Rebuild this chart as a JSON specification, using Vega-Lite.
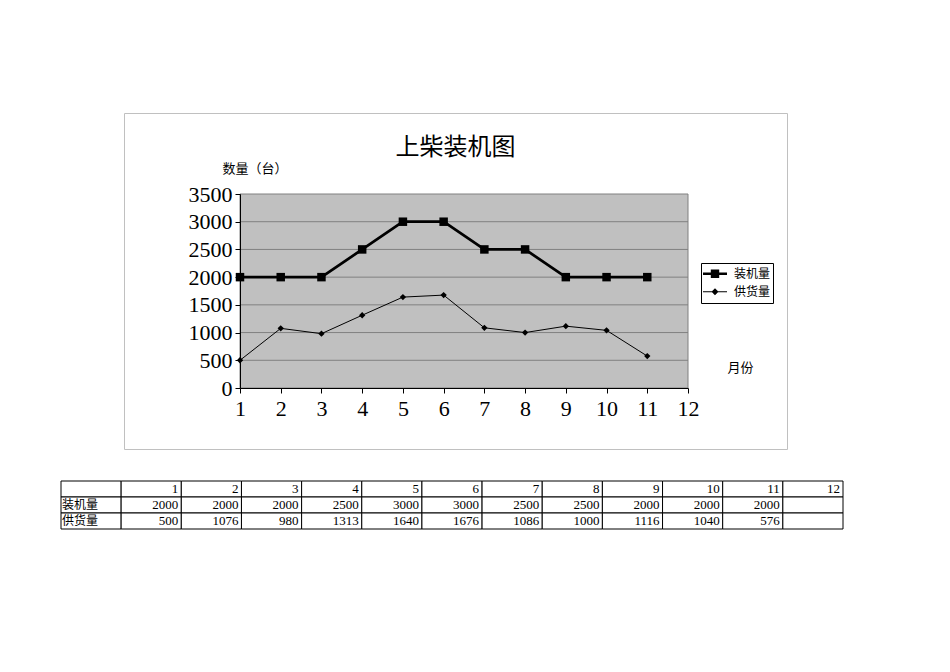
{
  "$schema": "https://vega.github.io/schema/vega-lite/v6.json",
  "width": 663,
  "height": 336,
  "autosize": "none",
  "padding": {"left": 124, "top": 113, "right": 163, "bottom": 223},
  "background": "white",
  "title": {
    "text": "上柴装机图",
    "anchor": "middle",
    "frame": "group",
    "font": "Noto Sans CJK SC",
    "fontSize": 24,
    "fontWeight": "normal",
    "color": "black",
    "baseline": "middle",
    "offset": -59
  },
  "datasets": {
    "series": [
      {"month": 1, "series": "装机量", "value": 2000},
      {"month": 2, "series": "装机量", "value": 2000},
      {"month": 3, "series": "装机量", "value": 2000},
      {"month": 4, "series": "装机量", "value": 2500},
      {"month": 5, "series": "装机量", "value": 3000},
      {"month": 6, "series": "装机量", "value": 3000},
      {"month": 7, "series": "装机量", "value": 2500},
      {"month": 8, "series": "装机量", "value": 2500},
      {"month": 9, "series": "装机量", "value": 2000},
      {"month": 10, "series": "装机量", "value": 2000},
      {"month": 11, "series": "装机量", "value": 2000},
      {"month": 1, "series": "供货量", "value": 500},
      {"month": 2, "series": "供货量", "value": 1076},
      {"month": 3, "series": "供货量", "value": 980},
      {"month": 4, "series": "供货量", "value": 1313},
      {"month": 5, "series": "供货量", "value": 1640},
      {"month": 6, "series": "供货量", "value": 1676},
      {"month": 7, "series": "供货量", "value": 1086},
      {"month": 8, "series": "供货量", "value": 1000},
      {"month": 9, "series": "供货量", "value": 1116},
      {"month": 10, "series": "供货量", "value": 1040},
      {"month": 11, "series": "供货量", "value": 576}
    ],
    "grid": [
      {"level": 500}, {"level": 1000}, {"level": 1500},
      {"level": 2000}, {"level": 2500}, {"level": 3000}
    ],
    "table": [
      {"row": "month", "col": "name", "text": ""},
      {"row": "month", "col": "1", "text": "1"},
      {"row": "month", "col": "2", "text": "2"},
      {"row": "month", "col": "3", "text": "3"},
      {"row": "month", "col": "4", "text": "4"},
      {"row": "month", "col": "5", "text": "5"},
      {"row": "month", "col": "6", "text": "6"},
      {"row": "month", "col": "7", "text": "7"},
      {"row": "month", "col": "8", "text": "8"},
      {"row": "month", "col": "9", "text": "9"},
      {"row": "month", "col": "10", "text": "10"},
      {"row": "month", "col": "11", "text": "11"},
      {"row": "month", "col": "12", "text": "12"},
      {"row": "装机量", "col": "name", "text": "装机量"},
      {"row": "装机量", "col": "1", "text": "2000"},
      {"row": "装机量", "col": "2", "text": "2000"},
      {"row": "装机量", "col": "3", "text": "2000"},
      {"row": "装机量", "col": "4", "text": "2500"},
      {"row": "装机量", "col": "5", "text": "3000"},
      {"row": "装机量", "col": "6", "text": "3000"},
      {"row": "装机量", "col": "7", "text": "2500"},
      {"row": "装机量", "col": "8", "text": "2500"},
      {"row": "装机量", "col": "9", "text": "2000"},
      {"row": "装机量", "col": "10", "text": "2000"},
      {"row": "装机量", "col": "11", "text": "2000"},
      {"row": "装机量", "col": "12", "text": ""},
      {"row": "供货量", "col": "name", "text": "供货量"},
      {"row": "供货量", "col": "1", "text": "500"},
      {"row": "供货量", "col": "2", "text": "1076"},
      {"row": "供货量", "col": "3", "text": "980"},
      {"row": "供货量", "col": "4", "text": "1313"},
      {"row": "供货量", "col": "5", "text": "1640"},
      {"row": "供货量", "col": "6", "text": "1676"},
      {"row": "供货量", "col": "7", "text": "1086"},
      {"row": "供货量", "col": "8", "text": "1000"},
      {"row": "供货量", "col": "9", "text": "1116"},
      {"row": "供货量", "col": "10", "text": "1040"},
      {"row": "供货量", "col": "11", "text": "576"},
      {"row": "供货量", "col": "12", "text": ""}
    ]
  },
  "layer": [
    {
      "layer": [
        {
          "data": {"name": "grid"},
          "transform": [{"filter": "datum.level === 500"}],
          "mark": {"type": "rect", "fill": "#C0C0C0", "stroke": "#808080", "strokeWidth": 1},
          "encoding": {
            "x": {"datum": 1, "type": "quantitative", "scale": {"domain": [1, 12], "range": [116, 564], "nice": false, "zero": false}},
            "x2": {"datum": 12},
            "y": {"datum": 0, "type": "quantitative", "scale": {"domain": [0, 3500], "range": [275, 81], "nice": false}},
            "y2": {"datum": 3500}
          }
        },
        {
          "data": {"name": "grid"},
          "mark": {"type": "rule", "color": "#808080", "strokeWidth": 1},
          "encoding": {
            "x": {"datum": 1, "type": "quantitative", "scale": {"domain": [1, 12], "range": [116, 564], "nice": false, "zero": false}},
            "x2": {"datum": 12},
            "y": {"field": "level", "type": "quantitative", "scale": {"domain": [0, 3500], "range": [275, 81], "nice": false}}
          }
        },
        {
          "data": {"name": "series"},
          "encoding": {
            "x": {
              "field": "month",
              "type": "quantitative",
              "scale": {"domain": [1, 12], "range": [116, 564], "nice": false, "zero": false},
              "axis": {
                "values": [1, 2, 3, 4, 5, 6, 7, 8, 9, 10, 11, 12],
                "format": "d",
                "offset": -61,
                "zindex": 1,
                "grid": false,
                "domainColor": "black",
                "tickColor": "black",
                "tickSize": 5,
                "labelFont": "Liberation Serif",
                "labelFontSize": 22,
                "labelColor": "black",
                "labelPadding": 5,
                "labelFlush": false,
                "labelOverlap": false,
                "labelBound": false,
                "title": "月份",
                "titleFont": "Noto Sans CJK SC",
                "titleFontSize": 13,
                "titleFontWeight": "normal",
                "titleColor": "black",
                "titleAngle": 0,
                "titleAlign": "center",
                "titleBaseline": "middle",
                "titleX": 616,
                "titleY": -21
              }
            },
            "y": {
              "field": "value",
              "type": "quantitative",
              "scale": {"domain": [0, 3500], "range": [275, 81], "nice": false},
              "axis": {
                "values": [0, 500, 1000, 1500, 2000, 2500, 3000, 3500],
                "format": "d",
                "offset": -116,
                "zindex": 1,
                "grid": false,
                "domainColor": "black",
                "tickColor": "black",
                "tickSize": 5,
                "labelFont": "Liberation Serif",
                "labelFontSize": 22,
                "labelColor": "black",
                "labelPadding": 3,
                "labelOverlap": false,
                "labelBound": false,
                "labelFlush": false,
                "title": "数量（台）",
                "titleFont": "Noto Sans CJK SC",
                "titleFontSize": 13,
                "titleFontWeight": "normal",
                "titleColor": "black",
                "titleAngle": 0,
                "titleAlign": "center",
                "titleBaseline": "middle",
                "titleX": 14.5,
                "titleY": 55
              }
            }
          },
          "layer": [
            {
              "transform": [{"filter": "datum.series === '装机量'"}],
              "mark": {"type": "line", "color": "black", "strokeWidth": 2.75},
              "encoding": {}
            },
            {
              "transform": [{"filter": "datum.series === '装机量'"}],
              "mark": {"type": "point", "shape": "square", "filled": true, "color": "black", "size": 72, "opacity": 1},
              "encoding": {}
            },
            {
              "transform": [{"filter": "datum.series === '供货量'"}],
              "mark": {"type": "line", "color": "black", "strokeWidth": 1},
              "encoding": {}
            },
            {
              "transform": [{"filter": "datum.series === '供货量'"}],
              "mark": {"type": "point", "shape": "diamond", "filled": true, "color": "black", "size": 40, "opacity": 1},
              "encoding": {}
            },
            {
              "mark": {"type": "point", "filled": true, "color": "black", "opacity": 0},
              "encoding": {
                "shape": {
                  "field": "series",
                  "type": "nominal",
                  "scale": {
                    "domain": ["装机量", "供货量"],
                    "range": [
                      "M-1,-0.11H1V0.11H-1ZM-0.35,-0.35H0.35V0.35H-0.35Z",
                      "M-1,-0.04H1V0.04H-1ZM0,-0.29L0.29,0L0,0.29L-0.29,0Z"
                    ]
                  },
                  "legend": {
                    "orient": "none",
                    "legendX": 577,
                    "legendY": 150,
                    "title": null,
                    "symbolSize": 576,
                    "symbolFillColor": "black",
                    "symbolStrokeWidth": 0,
                    "symbolOpacity": 1,
                    "labelFont": "Noto Sans CJK SC",
                    "labelFontSize": 12,
                    "labelColor": "black",
                    "labelOffset": 7,
                    "clipHeight": 17.5,
                    "rowPadding": 0,
                    "padding": 2,
                    "strokeColor": "black",
                    "fillColor": "white"
                  }
                }
              }
            }
          ]
        }
      ]
    },
    {
      "data": {"name": "table"},
      "encoding": {
        "x": {
          "field": "col",
          "type": "nominal",
          "sort": ["name", "1", "2", "3", "4", "5", "6", "7", "8", "9", "10", "11", "12"],
          "scale": {"range": [-63, 719], "paddingInner": 0, "paddingOuter": 0},
          "axis": null
        },
        "y": {
          "field": "row",
          "type": "nominal",
          "sort": ["month", "装机量", "供货量"],
          "scale": {"range": [368, 416], "paddingInner": 0, "paddingOuter": 0},
          "axis": null
        }
      },
      "layer": [
        {
          "mark": {"type": "rect", "fill": "white", "stroke": "black", "strokeWidth": 1}
        },
        {
          "transform": [{"filter": "datum.col !== 'name'"}],
          "mark": {"type": "text", "align": "right", "baseline": "middle", "dx": -3, "font": "Liberation Serif", "fontSize": 13, "color": "black"},
          "encoding": {
            "x": {
              "field": "col",
              "type": "nominal",
              "bandPosition": 1,
              "sort": ["name", "1", "2", "3", "4", "5", "6", "7", "8", "9", "10", "11", "12"],
              "axis": null
            },
            "text": {"field": "text"}
          }
        },
        {
          "transform": [{"filter": "datum.col === 'name'"}],
          "mark": {"type": "text", "align": "left", "baseline": "middle", "dx": 1, "font": "Noto Sans CJK SC", "fontSize": 12, "color": "black"},
          "encoding": {
            "x": {
              "field": "col",
              "type": "nominal",
              "bandPosition": 0,
              "sort": ["name", "1", "2", "3", "4", "5", "6", "7", "8", "9", "10", "11", "12"],
              "axis": null
            },
            "text": {"field": "text"}
          }
        }
      ]
    }
  ],
  "resolve": {"scale": {"x": "independent", "y": "independent"}},
  "config": {
    "view": {"stroke": "#C0C0C0", "fill": "white"},
    "font": "Liberation Serif"
  }
}
